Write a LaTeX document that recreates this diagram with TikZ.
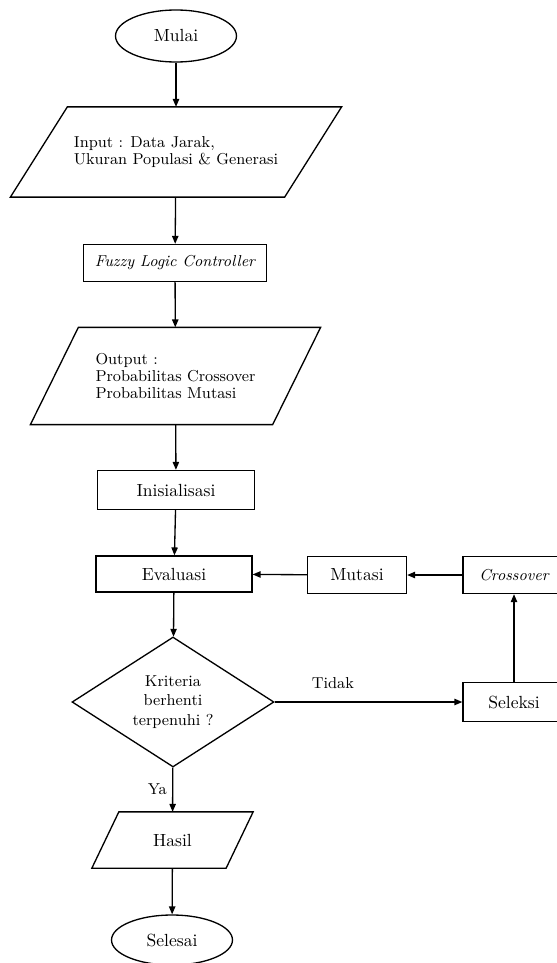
\documentclass[tikz,border=0pt]{standalone}
\usepackage{tikz}
\usetikzlibrary{arrows.meta,shapes.geometric,quotes}
\tikzset{>={Triangle[length=4.5pt,width=3.6pt]}}
\tikzset{
    terminal/.style={ellipse,draw,minimum width=2.42cm,minimum height=1.04cm,inner sep=0pt,font=\normalsize},
    inout/.style={rectangle,inner sep=0pt,align=left,font=\fontsize{9}{9.6}\selectfont,
        append after command={\pgfextra{\draw ([xshift=#1]\tikzlastnode.north west) -- ([xshift=#1]\tikzlastnode.north east)
            -- ([xshift=-#1]\tikzlastnode.south east) -- ([xshift=-#1]\tikzlastnode.south west) -- cycle;}}},
    process/.style={rectangle,draw,minimum height=0.74cm,inner sep=0pt,font=\normalsize},
    decision/.style={diamond,draw,aspect=1.55,minimum width=4.04cm,minimum height=2.6cm,inner sep=0pt,align=center,font=\small},
    edgelabel/.style={rectangle,draw=none,font=\small,inner sep=3pt},
    every edge quotes/.append style={edgelabel},
    directed/.style={arrows={->}},
}
\begin{document}
\begin{tikzpicture}[x=0.02cm,y=-0.02cm,line width=0.75pt]
		\useasboundingbox (0,0) rectangle (556,963);
		\node[terminal] (mulai) at (176,36) {Mulai};
		\node[inout=0.57cm,minimum width=5.46cm,minimum height=1.78cm] (input) at (176,152) {Input : Data Jarak,\\Ukuran Populasi \& Generasi};
		\node[process,minimum width=3.66cm,font=\small\itshape] (flc) at (175,263) {Fuzzy Logic Controller};
		\node[inout=0.48cm,minimum width=4.82cm,minimum height=1.92cm] (output) at (175.5,376) {Output :\\Probabilitas Crossover\\Probabilitas Mutasi};
		\node[process,minimum width=3.14cm,minimum height=0.78cm] (init) at (176,490) {Inisialisasi};
		\node[process,minimum width=3.12cm,minimum height=0.72cm] (eval) at (174,574) {Evaluasi};
		\node[process,minimum width=1.98cm] (mutasi) at (357,575) {Mutasi};
		\node[process,minimum width=2.04cm,font=\small\itshape] (cross) at (514,575) {Crossover};
		\node[decision] (kriteria) at (173,702) {Kriteria\\berhenti\\terpenuhi ?};
		\node[process,minimum width=2.04cm,minimum height=0.78cm] (seleksi) at (514,702) {Seleksi};
		\node[inout=0.27cm,minimum width=2.66cm,minimum height=1.1cm,font=\normalsize] (hasil) at (172.5,840) {Hasil};
		\node[terminal,minimum height=1cm] (selesai) at (172,940) {Selesai};

		\draw[directed] (mulai) -- (input);
		\draw[directed] (input) -- (flc);
		\draw[directed] (flc) -- (output);
		\draw[directed] (output) -- (init);
		\draw[directed] (init) -- (eval);
		\draw[directed] (eval) -- (kriteria);
		\draw[directed] (kriteria) to ["Ya"'] (hasil);
		\draw[directed] (hasil) -- (selesai);
		\draw[directed] (kriteria) to ["Tidak"{pos=0.31,yshift=4pt}] (seleksi);
		\draw[directed] (seleksi) -- (cross);
		\draw[directed] (cross) -- (mutasi);
		\draw[directed] (mutasi) -- (eval);
	\end{tikzpicture}
\end{document}
